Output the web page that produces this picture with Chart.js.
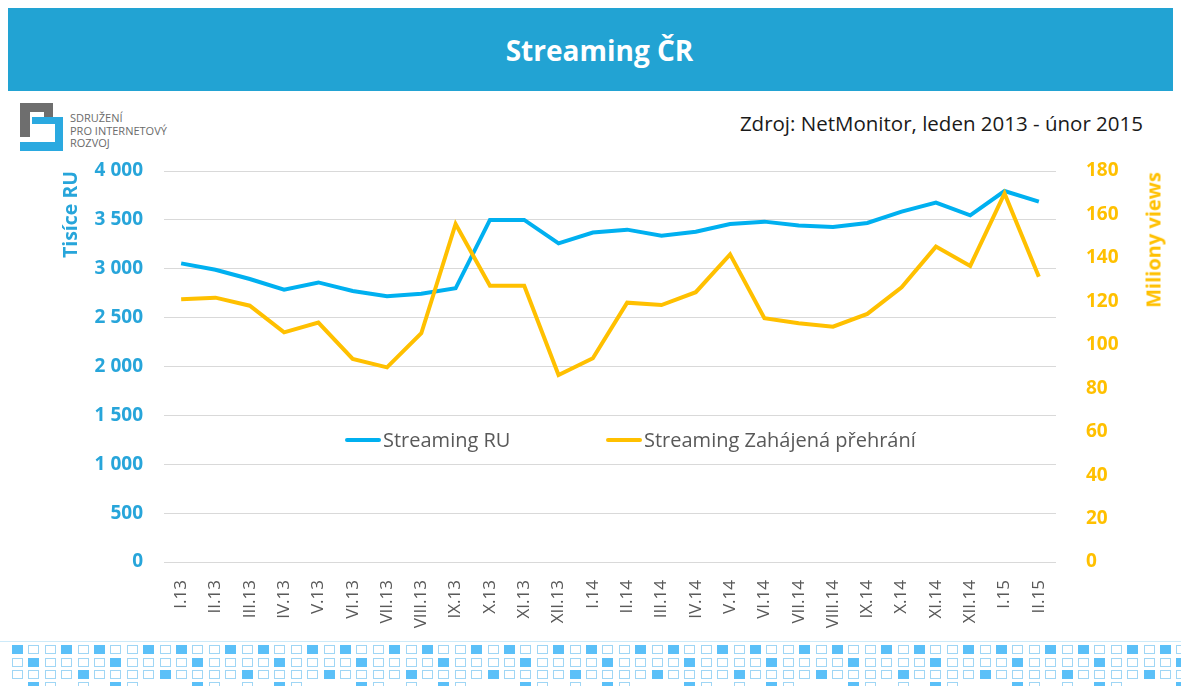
<!DOCTYPE html>
<html lang="cs">
<head>
<meta charset="utf-8">
<title>Streaming ČR</title>
<script src="https://cdn.jsdelivr.net/npm/chart.js@4.4.1/dist/chart.umd.min.js"></script>
<style>
    html, body { margin: 0; padding: 0; background: #fff; }
    body { width: 1181px; height: 686px; position: relative; overflow: hidden; font-family: "Open Sans", sans-serif; }
    #header {
        position: absolute; left: 8px; top: 8px; width: 1165px; height: 83px;
        background: #22a3d3; color: #fff; font-weight: bold; font-size: 28px;
        display: flex; align-items: center; justify-content: center;
        box-sizing: border-box; padding-left: 18px;
    }
    #source { position: absolute; right: 38px; top: 109px; font-size: 20.5px; color: #1a1a1a; white-space: nowrap; }
    #logo { position: absolute; left: 20px; top: 103px; width: 44px; height: 48px; }
    #logo div { position: absolute; }
    #logoText { position: absolute; left: 70px; top: 112px; font-size: 11px; line-height: 12.5px; color: #6b6b6b; }
    #chartBox { position: absolute; left: 0; top: 0; width: 1181px; height: 686px; }
    #rightTitle {
        position: absolute; left: 1153px; top: 240px; white-space: nowrap;
        font-size: 20px; font-weight: bold; color: #ffc000;
        transform: translate(-50%, -50%) rotate(-90deg);
    }
    #legend { position: absolute; top: 426px; left: 345px; font-size: 20px; color: #595959; white-space: nowrap; }
    .lg-item { position: absolute; top: 0; display: flex; align-items: center; }
    .lg-line { width: 36px; height: 4px; border-radius: 2px; margin-right: 2px; }
    #pattern { position: absolute; left: 0; top: 641px; width: 1181px; height: 45px; border-top: 1px solid #cdeaf9; }
    .sq { position: absolute; width: 9px; height: 7px; border: 1px solid #9fd6f5; background: #fff; }
    .sq.on { background: #5bc0f8; border-color: #5bc0f8; }
</style>
</head>
<body>
<div id="header">Streaming ČR</div>
<div id="logo">
    <div style="left:0;top:0;width:33px;height:9px;background:#6e6e6e"></div>
    <div style="left:0;top:0;width:10px;height:34px;background:#6e6e6e"></div>
    <div style="left:24px;top:0;width:9px;height:14px;background:#6e6e6e"></div>
    <div style="left:12px;top:14px;width:31px;height:7px;background:#2aa9e0"></div>
    <div style="left:35px;top:14px;width:8px;height:34px;background:#2aa9e0"></div>
    <div style="left:0;top:39px;width:43px;height:9px;background:#2aa9e0"></div>
</div>
<div id="logoText">SDRUŽENÍ<br>PRO INTERNETOVÝ<br>ROZVOJ</div>
<div id="source">Zdroj: NetMonitor, leden 2013 - únor 2015</div>
<div id="pattern"></div>
<div id="chartBox"><canvas id="mainChart" width="1181" height="686"></canvas></div>
<div id="rightTitle">Miliony views</div>
<div id="legend"></div>

<script>
// Data
const months = ['I.13', 'II.13', 'III.13', 'IV.13', 'V.13', 'VI.13', 'VII.13', 'VIII.13', 'IX.13', 'X.13', 'XI.13', 'XII.13',
    'I.14', 'II.14', 'III.14', 'IV.14', 'V.14', 'VI.14', 'VII.14', 'VIII.14', 'IX.14', 'X.14', 'XI.14', 'XII.14',
    'I.15', 'II.15'];

// Streaming RU (tisíce) - left axis
const streamingRU = [3055, 2990, 2895, 2785, 2860, 2772, 2720, 2745, 2800, 3500, 3500, 3260,
    3370, 3400, 3338, 3378, 3458, 3482, 3442, 3427, 3468, 3584, 3676, 3547,
    3795, 3686];

// Streaming Zahájená přehrání (miliony) - right axis
const streamingViews = [121, 121.7, 118, 105.7, 110.2, 93.5, 89.6, 105.3, 155.6, 127.2, 127.2, 86.1,
    93.8, 119.4, 118.3, 124.2, 141.6, 112.2, 109.9, 108.3, 114.2, 126.5, 145.2, 136.3,
    169.7, 131.3];

const ruLabel = 'Streaming RU';
const viewsLabel = 'Streaming Zahájená přehrání';

const BLUE = '#00b0f0';
const GOLD = '#ffc000';
const AXIS_BLUE = '#27a5da';
const GRID = '#d9d9d9';

let mainChart = null;

document.addEventListener('DOMContentLoaded', function() {
    renderMainChart();
    renderLegend();
    renderPattern();
});

function formatThousands(value) {
    return String(value).replace(/\B(?=(\d{3})+(?!\d))/g, ' ');
}

function renderMainChart() {
    const ctx = document.getElementById('mainChart');

    mainChart = new Chart(ctx.getContext('2d'), {
        type: 'line',
        data: {
            labels: months,
            datasets: [
                {
                    label: ruLabel,
                    data: streamingRU,
                    borderColor: BLUE,
                    backgroundColor: BLUE,
                    borderWidth: 4,
                    pointRadius: 0,
                    tension: 0,
                    yAxisID: 'y',
                    order: 2
                },
                {
                    label: viewsLabel,
                    data: streamingViews,
                    borderColor: GOLD,
                    backgroundColor: GOLD,
                    borderWidth: 4,
                    pointRadius: 0,
                    tension: 0,
                    yAxisID: 'y1',
                    order: 1
                }
            ]
        },
        options: {
            responsive: false,
            animation: false,
            layout: { padding: { left: 0, right: 0, top: 171, bottom: 0 } },
            plugins: { legend: { display: false }, tooltip: { enabled: false } },
            scales: {
                x: {
                    offset: true,
                    grid: { display: false },
                    border: { display: false },
                    ticks: {
                        color: '#595959',
                        font: { family: 'Open Sans', size: 17 },
                        minRotation: 90,
                        maxRotation: 90,
                        autoSkip: false,
                        padding: 10
                    },
                    afterFit: function(scale) { scale.height = 124; }
                },
                y: {
                    position: 'left',
                    min: 0,
                    max: 4000,
                    grid: { color: GRID, lineWidth: 1, drawTicks: false },
                    border: { display: false },
                    ticks: {
                        stepSize: 500,
                        color: AXIS_BLUE,
                        padding: 21,
                        font: { family: 'Open Sans', size: 19, weight: 'bold' },
                        callback: v => formatThousands(v)
                    },
                    title: {
                        display: true,
                        text: 'Tisíce RU',
                        align: 'end',
                        color: AXIS_BLUE,
                        font: { family: 'Open Sans', size: 19.5, weight: 'bold' },
                        padding: { top: 60, bottom: 0 }
                    },
                    afterFit: function(scale) { scale.width = 164; }
                },
                y1: {
                    position: 'right',
                    min: 0,
                    max: 180,
                    grid: { display: false },
                    border: { display: false },
                    ticks: {
                        stepSize: 20,
                        color: GOLD,
                        padding: 22,
                        font: { family: 'Open Sans', size: 19, weight: 'bold' }
                    },
                    afterFit: function(scale) { scale.width = 125; }
                }
            }
        }
    });
}

// Legend drawn as HTML inside the plot area, taken from the chart's datasets
function renderLegend() {
    const legend = document.getElementById('legend');
    const offsets = [0, 261];
    legend.innerHTML = mainChart.data.datasets.map((ds, i) => `
        <div class="lg-item" style="left:${offsets[i]}px">
            <span class="lg-line" style="background:${ds.borderColor}"></span><span>${ds.label}</span>
        </div>
    `).join('');
}

// Decorative square pattern at the bottom
function renderPattern() {
    const box = document.getElementById('pattern');
    const rows = [
        { top: 3, filled: c => c % 5 === 0 || c % 5 === 3, show: () => true },
        { top: 16, filled: c => c % 5 === 1, show: () => true },
        { top: 28, filled: c => c % 5 === 4, show: () => true },
        { top: 40, filled: c => c % 5 === 1, show: c => c % 5 === 1 || c % 5 === 2 || c % 10 === 4 }
    ];
    let html = '';
    rows.forEach(r => {
        for (let c = 0; c < 72; c++) {
            if (!r.show(c)) continue;
            const x = 12 + c * 16.4;
            html += `<div class="sq${r.filled(c) ? ' on' : ''}" style="left:${x.toFixed(1)}px;top:${r.top}px"></div>`;
        }
    });
    box.innerHTML = html;
}
</script>
</body>
</html>
